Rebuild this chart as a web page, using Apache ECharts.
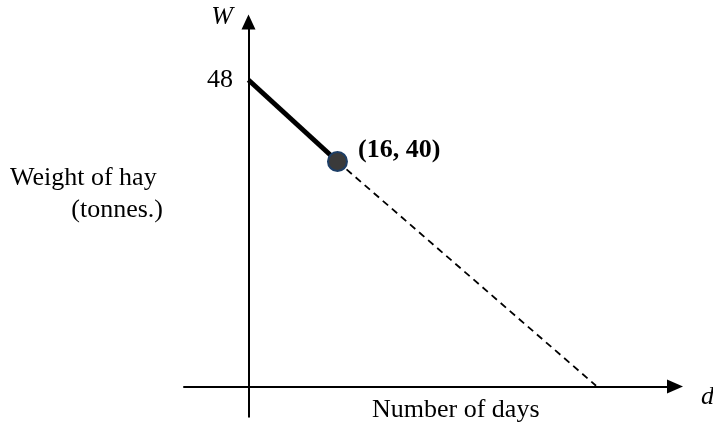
<!DOCTYPE html>
<html>
<head>
<meta charset="utf-8">
<script src="https://cdn.jsdelivr.net/npm/echarts@6/dist/echarts.min.js"></script>
<style>
  html, body { margin: 0; padding: 0; background: #fff; }
  #main { width: 713px; height: 432px; }
</style>
</head>
<body>
<div id="main"></div>
<script>
// data (d = days, W = tonnes)
var knownLine = [[0, 48], [16, 40]];          // solid part
var projectedLine = [[16, 40], [62.5, 18]];   // dashed part, runs down to the d axis
var markedPoint = [[16, 40]];
var wTicks = [48];

var serif = '"Liberation Serif", "Times New Roman", serif';

function txt(text, x, y, opts) {
  opts = opts || {};
  return {
    type: 'text',
    x: x,
    y: y,
    z: 10,
    style: {
      text: text,
      fill: '#000',
      font: (opts.font || '') + ' 26px ' + serif,
      align: opts.align || 'left',
      textAlign: opts.align || 'left',
      verticalAlign: 'middle',
      textVerticalAlign: 'middle'
    }
  };
}

var chart = echarts.init(document.getElementById('main'));

var option = {
  backgroundColor: '#fff',
  animation: false,
  grid: { left: 184, right: 38, top: 22, bottom: 15.3 },
  xAxis: {
    type: 'value',
    min: -11.6,
    max: 76.7,
    offset: -30.2, // d axis sits above the bottom of the W axis
    splitLine: { show: false },
    axisTick: { show: false },
    axisLabel: { show: false },
    axisLine: {
      show: true,
      onZero: false,
      symbol: ['none', 'triangle'],
      symbolSize: [14, 16],
      lineStyle: { color: '#000', width: 2 }
    }
  },
  yAxis: {
    type: 'value',
    min: 14.96,
    max: 53.69,
    splitLine: { show: false },
    axisTick: { show: false },
    axisLabel: {
      customValues: wTicks,
      margin: -49, // labels hang off the grid edge, not the shifted line
      color: '#000',
      fontSize: 26,
      fontFamily: serif
    },
    axisLine: {
      show: true,
      onZero: true,
      symbol: ['none', 'triangle'],
      symbolSize: [14, 15],
      lineStyle: { color: '#000', width: 2 }
    }
  },
  series: [
    {
      type: 'line',
      data: knownLine,
      symbol: 'none',
      lineStyle: { color: '#000', width: 5 },
      z: 3
    },
    {
      type: 'line',
      data: projectedLine,
      symbol: 'none',
      lineStyle: { color: '#000', width: 1.8, type: [7, 5] },
      z: 2
    },
    {
      type: 'scatter',
      data: markedPoint,
      symbolSize: 19,
      itemStyle: { color: '#3a3a3a', borderColor: '#1d3e66', borderWidth: 2, opacity: 1 },
      label: {
        show: true,
        position: 'right',
        distance: 10,
        offset: [0, -11],
        formatter: function (p) { return '(' + p.value[0] + ', ' + p.value[1] + ')'; },
        color: '#000',
        fontFamily: serif,
        fontWeight: 'bold',
        fontSize: 26
      },
      z: 4
    }
  ],
  graphic: [
    txt('W', 222, 17, { font: 'italic', align: 'center' }),
    txt('d', 701, 397, { font: 'italic' }),
    txt('Weight of hay', 10, 178),
    txt('(tonnes.)', 163, 210, { align: 'right' }),
    txt('Number of days', 372, 410)
  ]
};

chart.setOption(option);
</script>
</body>
</html>
